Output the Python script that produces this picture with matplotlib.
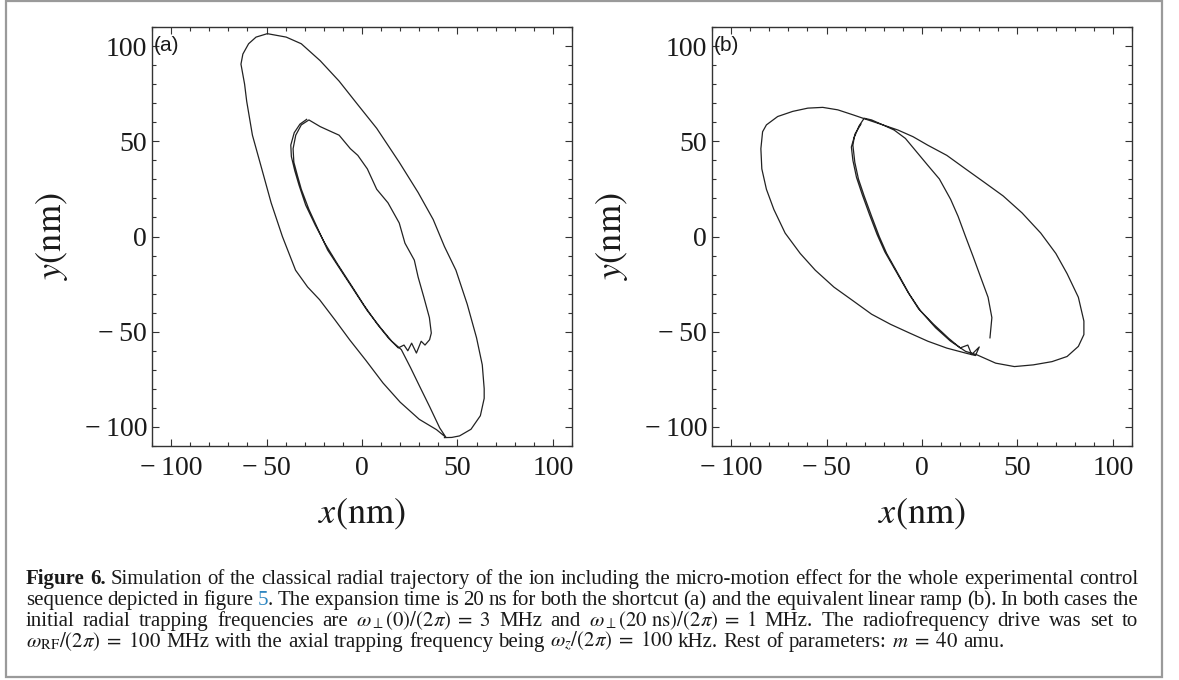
import re
import matplotlib
matplotlib.use('Agg')
import matplotlib.pyplot as plt
from matplotlib.patches import Rectangle
from matplotlib.ticker import FixedLocator, FixedFormatter, MultipleLocator

plt.rcParams['font.family'] = ['Liberation Serif', 'DejaVu Serif']
plt.rcParams['mathtext.fontset'] = 'stix'

W, H = 1179, 680

# traced trajectory, panel (a) shortcut, in nm
xa = [43.2, 47.0, 51.1, 57.1, 62.0, 64.0, 64.0, 63.0, 60.0, 55.1, 49.2, 43.2, 37.3, 29.4,
      19.5, 7.7, -2.2, -12.0, -21.9, -31.8, -39.7, -49.6, -55.5, -59.4, -62.4, -63.4, -61.5,
      -60.4, -57.4, -52.5, -47.6, -41.7, -34.8, -28.5, -22.2, -14.0, -6.5, 2.0, 11.0, 20.0,
      30.0, 39.0, 44.0, 40.7, 35.5, 30.2, 25.5, 20.6, 15.6, 9.7, 2.8, -4.1, -11.1, -18.0,
      -22.9, -27.8, -31.8, -33.8, -35.7, -36.1, -34.7, -31.8, -27.8, -21.9, -16.0, -12.0,
      -6.1, -2.2, 2.8, 7.7, 13.6, 19.5, 22.5, 27.4, 29.4, 32.4, 35.3, 36.3, 35.4, 33.0,
      31.0, 28.5, 26.0, 24.0, 22.0, 19.0, 14.0, 8.0, 1.0, -6.0, -12.8, -19.5, -24.5, -29.5,
      -33.0, -35.2, -37.0, -37.3, -35.5, -32.5, -29.0]
ya = [-105.6, -105.5, -104.7, -101.2, -94.1, -85.0, -79.9, -67.4, -53.2, -35.5, -17.7,
      -5.3, 8.9, 23.1, 39.0, 56.8, 69.2, 81.6, 92.3, 101.2, 104.7, 106.5, 104.7, 101.2,
      95.8, 90.5, 80.0, 71.0, 53.2, 35.5, 17.7, 0.0, -17.7, -26.5, -33.2, -44.0, -54.2,
      -65.0, -76.9, -87.0, -96.0, -101.4, -105.5, -100.5, -89.5, -78.7, -69.0, -59.4, -55.0,
      -47.9, -39.0, -28.4, -17.7, -7.1, 3.5, 14.2, 24.8, 31.9, 39.0, 46.1, 53.2, 58.6, 61.2,
      57.7, 55.0, 53.2, 46.1, 42.6, 35.5, 24.8, 17.7, 7.1, -3.5, -12.4, -21.3, -31.9, -42.6,
      -50.7, -54.2, -57.0, -55.0, -61.2, -56.0, -60.0, -57.0, -58.5, -53.5, -46.0, -36.0,
      -25.0, -14.5, -3.5, 6.0, 16.5, 27.0, 34.5, 42.0, 48.0, 54.5, 59.0, 61.5]

# traced trajectory, panel (b) linear ramp, in nm
xb = [35.6, 36.6, 34.6, 30.7, 26.8, 22.8, 18.9, 15.0, 9.1, 3.1, -2.8, -8.7, -14.6, -20.5,
      -26.4, -30.3, -33.0, -35.5, -36.2, -35.2, -33.3, -30.3, -26.4, -22.4, -18.5, -12.6,
      -6.7, -0.8, 7.1, 15.0, 22.8, 28.7, 38.6, 48.4, 58.3, 68.1, 76.0, 81.9, 84.8, 84.8,
      81.9, 76.0, 70.1, 62.2, 52.4, 42.5, 32.7, 22.8, 13.0, 3.1, -4.7, -12.6, -20.5, -28.3,
      -36.2, -44.1, -52.0, -59.8, -67.7, -75.6, -81.5, -83.5, -84.4, -83.9, -81.5, -77.6,
      -71.7, -63.8, -55.9, -46.1, -36.2, -26.4, -16.5, -6.7, 3.1, 13.0, 22.8, 28.0, 30.0,
      26.0, 24.0, 20.0, 14.0, 6.0, -1.8, -7.5, -13.5, -19.5, -23.5, -27.5, -31.3, -34.3,
      -36.2, -37.0, -35.0, -32.0]
yb = [-53.2, -42.6, -31.9, -21.3, -10.6, 0.0, 10.6, 19.5, 30.2, 37.3, 44.4, 51.5, 55.9,
      58.6, 61.2, 62.1, 58.0, 52.0, 47.9, 39.0, 30.2, 21.3, 10.6, 0.0, -8.9, -19.5, -30.2,
      -39.0, -47.9, -55.0, -60.3, -62.1, -66.5, -68.3, -67.4, -65.7, -63.0, -57.7, -51.5,
      -44.4, -31.9, -19.5, -8.9, 1.8, 12.4, 21.3, 28.4, 35.5, 42.6, 47.9, 52.4, 55.9, 58.6,
      61.2, 63.9, 66.5, 67.8, 67.4, 65.7, 63.0, 58.6, 55.0, 46.1, 35.5, 24.8, 14.2, 1.8,
      -8.9, -17.7, -26.6, -33.7, -40.8, -46.1, -50.6, -55.0, -58.6, -61.2, -62.5, -58.0,
      -62.0, -57.0, -58.5, -53.5, -46.0, -38.0, -29.0, -18.5, -8.0, 1.0, 11.5, 22.0, 31.0,
      40.0, 47.0, 54.0, 59.0]

tick_vals = [-100, -50, 0, 50, 100]
tick_text = ['\u2212\u2009100', '\u2212\u200950', '0', '50', '100']
panel_tags = ['(a)', '(b)']

caption = [
    [('Figure 6.', {'fontweight': 'bold'}),
     (' Simulation of the classical radial trajectory of the ion including the micro-motion '
      'effect for the whole experimental control', {})],
    [('sequence depicted in figure ', {}), ('5', {'color': '#2e86c1'}),
     ('. The expansion time is 20 ns for both the shortcut (a) and the equivalent linear ramp (b). '
      'In both cases the', {})],
    [(r'initial radial trapping frequencies are $\omega_\perp(0)/(2\pi)\;=\;3$ MHz and '
      r'$\omega_\perp(20\ \mathrm{ns})/(2\pi)\;=\;1$ MHz. The radiofrequency drive was set to', {})],
    [(r'$\omega_\mathrm{RF}/(2\pi)\;=\;100$ MHz with the axial trapping frequency being '
      r'$\omega_z/(2\pi)\;=\;100$ kHz. Rest of parameters: $m\;=\;40$ amu.', {})],
]

fig = plt.figure(figsize=(W / 100, H / 100), dpi=100)
fig.patches.append(Rectangle((6 / W, 3 / H), 1156 / W, 676 / H, transform=fig.transFigure,
                             fill=False, ec='#9a9a9a', lw=1.6))

for i, (xs, ys) in enumerate([(xa, ya), (xb, yb)]):
    left = [152, 712][i]
    ax = fig.add_axes([left / W, 1 - 446 / H, 420 / W, 419 / H])
    ax.plot(xs, ys, color='#222222', lw=0.9)
    ax.set_xlim(-110, 110)
    ax.set_ylim(-110, 110)
    for axis in (ax.xaxis, ax.yaxis):
        axis.set_major_locator(FixedLocator(tick_vals))
        axis.set_major_formatter(FixedFormatter(tick_text))
        axis.set_minor_locator(MultipleLocator(10))
    ax.tick_params(which='both', direction='in', top=True, right=True, color='#333333',
                   width=0.8, labelsize=20, labelcolor='#1a1a1a')
    ax.tick_params(which='major', length=5)
    ax.tick_params(which='minor', length=3)
    ax.tick_params(axis='x', pad=7)
    ax.tick_params(axis='y', pad=3.5)
    for s in ax.spines.values():
        s.set_color('#333333')
        s.set_linewidth(1.0)
    ax.set_xlabel(r'$x(\mathrm{nm})$', fontsize=26, color='#1a1a1a')
    ax.set_ylabel(r'$y(\mathrm{nm})$', fontsize=26, color='#1a1a1a')
    ax.xaxis.label.set_va('center')
    ax.yaxis.label.set_va('center')
    ax.xaxis.set_label_coords(0.5, -0.163)
    ax.yaxis.set_label_coords(-0.238, 0.5)
    ax.text(0.004, 0.957, panel_tags[i], transform=ax.transAxes, ha='left', va='center',
            fontsize=15, family='Liberation Sans', color='#1a1a1a')

# caption, justified like the journal layout
rend = fig.canvas.get_renderer()


def split_words(segs):
    words = []
    glue = False
    for text, style in segs:
        for m in re.finditer(r'(?:\$[^$]*\$|\S)+', text):
            piece = (m.group(), style)
            if m.start() == 0 and glue and words:
                words[-1].append(piece)
            else:
                words.append([piece])
        glue = not text[-1].isspace()
    return words


def measure(words, size):
    sizes = []
    for w in words:
        ws = []
        for t, st in w:
            tmp = fig.text(0, 0, t, fontsize=size, **st)
            ws.append(tmp.get_window_extent(rend).width)
            tmp.remove()
        sizes.append(ws)
    return sizes


# pick the caption size so the first line fills the column with normal spaces
probe = 12.0
w1 = split_words(caption[0])
s1 = measure(w1, probe)
nat = sum(sum(s) for s in s1) + 0.25 * probe * 100 / 72 * (len(w1) - 1)
cap_size = probe * 1112 / nat


def put_line(segs, x, y, width=None):
    words = split_words(segs)
    sizes = measure(words, cap_size)
    total = sum(sum(s) for s in sizes)
    space = 0.25 * cap_size * 100 / 72
    gap = (width - total) / (len(words) - 1) if width else space
    cx = x
    for w, ws in zip(words, sizes):
        for (t, st), wpx in zip(w, ws):
            fig.text(cx / W, 1 - y / H, t, fontsize=cap_size, va='baseline', ha='left',
                     color=st.get('color', '#1a1a1a'),
                     fontweight=st.get('fontweight', 'normal'))
            cx += wpx
        cx += gap


baselines = [584, 605, 626, 647]
for k, segs in enumerate(caption):
    put_line(segs, 26, baselines[k], width=1112 if k < 3 else None)

fig.savefig('out.png', dpi=100)
